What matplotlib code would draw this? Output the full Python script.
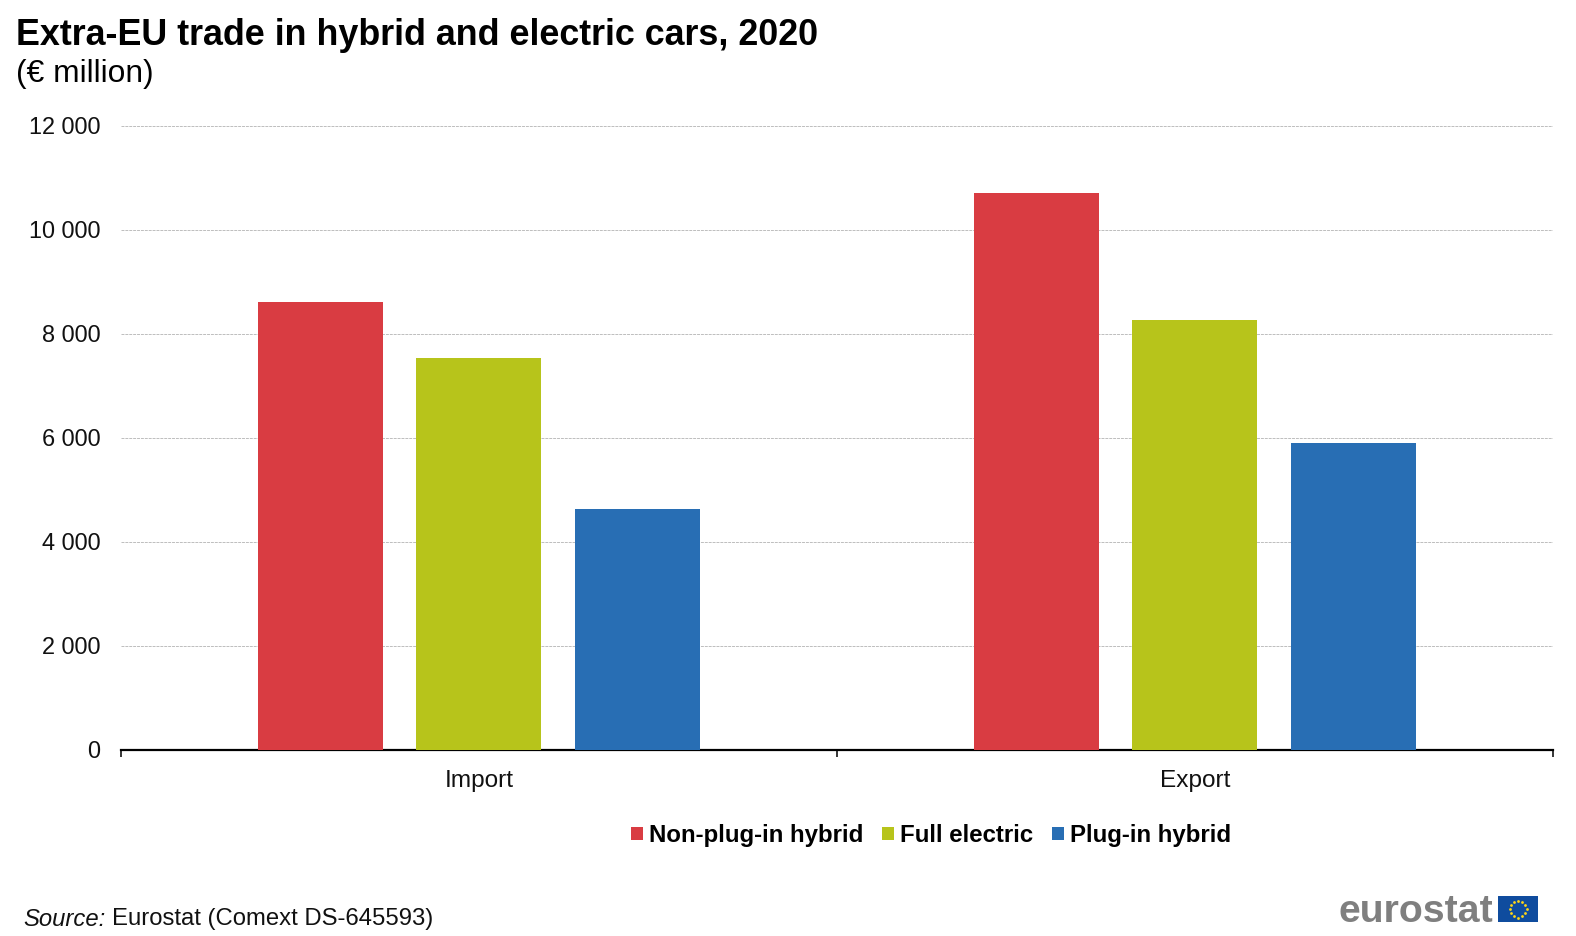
import matplotlib
matplotlib.use("Agg")
import matplotlib.pyplot as plt
import matplotlib.transforms as mtrans
import numpy as np
from matplotlib.patches import Rectangle

plt.rcParams['font.family'] = ['Liberation Sans', 'DejaVu Sans']

categories = ["Import", "Export"]
series_names = ["Non-plug-in hybrid", "Full electric", "Plug-in hybrid"]
non_plug_in = [8630, 10710]
full_electric = [7550, 8270]
plug_in = [4640, 5900]
colors = ["#D93C42", "#B7C41B", "#286EB4"]
yticks = [0, 2000, 4000, 6000, 8000, 10000, 12000]
ytick_labels = ["0", "2 000", "4 000", "6 000", "8 000", "10 000", "12 000"]

W, H = 1576, 936
fig = plt.figure(figsize=(W/100, H/100), dpi=100)
ax_w = 1553 - 121
ax = fig.add_axes([121/W, 1-750/H, ax_w/W, (750-126.4)/H])

offsets = np.array([-158.5, -1, 158.5]) / ax_w * 2
width = 125 / ax_w * 2
x = np.arange(2)
for off, vals, c, name in zip(offsets, [non_plug_in, full_electric, plug_in], colors, series_names):
    ax.bar(x + off, vals, width, color=c, label=name, zorder=3)

ax.set_xlim(-0.5, 1.5)
ax.set_ylim(0, 12000)
ax.set_yticks(yticks)
ax.set_yticklabels(ytick_labels, fontsize=16.9, color="#111111")
ax.set_xticks([-0.5, 0.5, 1.5])
ax.set_xticklabels(["", "", ""])
ax.tick_params(axis='y', length=0, pad=15)
ax.tick_params(axis='x', length=5, width=1.1, direction='out', color="black")
ax.yaxis.grid(True, color="#BDBDBD", linestyle=(0, (3, 1)), linewidth=0.7, zorder=0)
ax.set_axisbelow(True)
for s in ["top", "left", "right"]:
    ax.spines[s].set_visible(False)
ax.spines["bottom"].set_linewidth(1.6)
up = mtrans.ScaledTranslation(0, 1/100, fig.dpi_scale_trans)
for lab in ax.get_yticklabels():
    lab.set_transform(lab.get_transform() + up)
for xi, cat in zip(x, categories):
    ax.annotate(cat, (xi, 0), xycoords=ax.get_xaxis_transform(), xytext=(0, -31*0.72), textcoords='offset points',
                ha='center', va='center', fontsize=17.6, color="#111111")

fig.text(16/W, 1-35.5/H, "Extra-EU trade in hybrid and electric cars, 2020", fontsize=25.85, fontweight='bold', va='center', ha='left', color='black')
fig.text(16/W, 1-74/H, "(€ million)", fontsize=22.9, va='center', ha='left', color='black')

leg = fig.legend(loc='center', bbox_to_anchor=(931/W, 1-835.5/H), ncol=3, frameon=False,
                 prop={'size': 17.3, 'weight': 'bold'}, handlelength=0.5, handleheight=0.5,
                 handletextpad=0.25, columnspacing=0.78, borderpad=0, borderaxespad=0)
leg.get_texts()[1].set_y(0.35)

fig.text(23/W, 1-919/H, "Source:", fontsize=17.2, style='italic', va='center', ha='left', color='#111111')
fig.text(112.5/W, 1-919/H, "Eurostat (Comext DS-645593)", fontsize=17.2, va='center', ha='left', color='#111111')

fig.text(1493/W, 1-922/H, "eurostat", fontsize=28.3, fontweight='bold', va='baseline', ha='right', color='#7F7F7F')
flag = fig.add_axes([1498/W, 1-922/H, 40/W, 26/H])
flag.set_xlim(0, 40); flag.set_ylim(0, 26); flag.axis('off')
flag.add_patch(Rectangle((0, 0), 40, 26, color="#0F4C9E"))
angles = np.deg2rad(np.arange(0, 360, 30))
flag.scatter(20 + 8.5*np.cos(angles), 13 + 8.5*np.sin(angles), s=4, color="#FFD617", marker='o', linewidths=0)

fig.savefig("out.png", dpi=100)
